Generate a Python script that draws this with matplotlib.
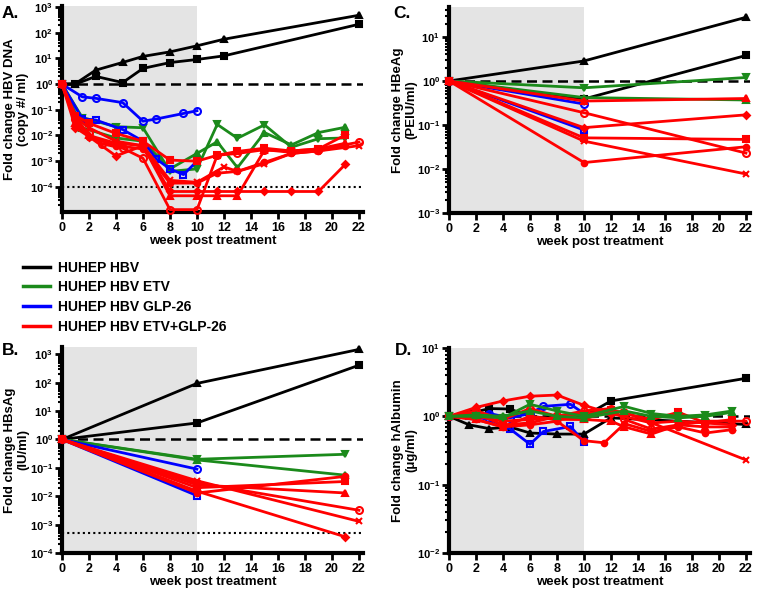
import math
import matplotlib
matplotlib.use("Agg")
import matplotlib.pyplot as plt
from matplotlib.lines import Line2D
from matplotlib.ticker import LogLocator, FixedLocator, FuncFormatter, NullFormatter

plt.rcParams['font.family'] = ['Liberation Sans', 'DejaVu Sans']
plt.rcParams['font.weight'] = 'bold'
plt.rcParams['mathtext.fontset'] = 'custom'
plt.rcParams['mathtext.rm'] = 'Liberation Sans:bold'
plt.rcParams['mathtext.bf'] = 'Liberation Sans:bold'
plt.rcParams['mathtext.it'] = 'Liberation Sans:bold'

BLACK, GREEN, BLUE, RED = '#000000', '#1b8a1b', '#0000ff', '#ff0000'

# ---------------- Panel A: HBV DNA ----------------
A_blk_tri_wk = [0, 1, 2.5, 4.5, 6, 8, 10, 12, 22]
A_blk_tri = [1, 1.05, 3.5, 7, 12, 18, 31, 56, 480]
A_blk_sq_wk = [0, 1, 2.5, 4.5, 6, 8, 10, 12, 22]
A_blk_sq = [1, 1.0, 2.0, 1.15, 4.1, 6.9, 9.1, 12.6, 214]
A_blu_ci_wk = [0, 1.5, 2.5, 4.5, 6, 7, 9, 10]
A_blu_ci = [1, 0.32, 0.28, 0.19, 0.036, 0.044, 0.072, 0.092]
A_blu_sq_wk = [0, 1.5, 2.5, 4.5, 6, 7, 8, 9, 10]
A_blu_sq = [1, 0.045, 0.04, 0.017, 0.006, 0.0012, 0.0005, 0.0003, 0.001]
A_grn_dn_wk = [0, 1.5, 4, 6, 8, 10, 11.5, 13, 15, 17, 19, 21]
A_grn_dn = [1, 0.05, 0.022, 0.02, 0.0004, 0.0005, 0.027, 0.0078, 0.026, 0.0035, 0.0075, 0.008]
A_grn_up_wk = [0, 1.5, 4, 6, 8, 10, 11.5, 13, 15, 17, 19, 21]
A_grn_up = [1, 0.02, 0.008, 0.006, 0.0005, 0.002, 0.0057, 0.00056, 0.013, 0.0043, 0.013, 0.021]
A_red_sq_wk = [0, 1, 2, 4, 6, 8, 10, 11.5, 13, 15, 17, 19, 21]
A_red_sq = [1, 0.06, 0.03, 0.012, 0.006, 0.0011, 0.001, 0.0017, 0.0024, 0.0032, 0.0025, 0.003, 0.0105]
A_red_oc_wk = [0, 1, 2, 3, 4.5, 6, 8, 10, 11.5, 13, 15, 17, 19, 22]
A_red_oc = [1, 0.043, 0.012, 0.0047, 0.0032, 0.0013, 1.3e-5, 1.3e-5, 0.0017, 0.002, 0.0028, 0.0022, 0.0028, 0.0055]
A_red_x_wk = [0, 1, 2, 4, 6, 8, 10, 12, 13, 15, 17, 19, 22]
A_red_x = [1, 0.05, 0.02, 0.006, 0.004, 0.00018, 0.00015, 0.0006, 0.0004, 0.0008, 0.002, 0.0025, 0.004]
A_red_tri_wk = [0, 1, 2, 4, 6, 8, 10, 11.5, 13, 15, 17, 19, 21]
A_red_tri = [1, 0.03, 0.01, 0.005, 0.004, 4.5e-5, 4.5e-5, 4.5e-5, 4.5e-5, 0.0027, 0.0025, 0.003, 0.005]
A_red_dia_wk = [0, 1, 2, 4, 6, 8, 10, 11.5, 13, 15, 17, 19, 21]
A_red_dia = [1, 0.02, 0.009, 0.0016, 0.004, 6.6e-5, 6.6e-5, 6.6e-5, 6.6e-5, 6.6e-5, 6.6e-5, 6.6e-5, 0.00076]
A_red_fc_wk = [0, 1, 2, 4, 6, 8, 10, 11.5, 13, 15, 17, 19, 21]
A_red_fc = [1, 0.04, 0.009, 0.004, 0.003, 1.4e-4, 1.4e-4, 0.00034, 0.0004, 0.0009, 0.002, 0.0025, 0.004]

# ---------------- Panel B: HBsAg ----------------
B_blk_tri_wk = [0, 10, 22]; B_blk_tri = [1, 94, 1480]
B_blk_sq_wk = [0, 10, 22]; B_blk_sq = [1, 3.8, 410]
B_grn_dn_wk = [0, 10, 21]; B_grn_dn = [1, 0.2, 0.3]
B_grn_up_wk = [0, 10, 21]; B_grn_up = [1, 0.19, 0.055]
B_blu_ci_wk = [0, 10]; B_blu_ci = [1, 0.09]
B_blu_sq_wk = [0, 10]; B_blu_sq = [1, 0.0105]
B_red_fc_wk = [0, 10, 21]; B_red_fc = [1, 0.013, 0.05]
B_red_sq_wk = [0, 10, 21]; B_red_sq = [1, 0.02, 0.033]
B_red_tri_wk = [0, 10, 21]; B_red_tri = [1, 0.025, 0.013]
B_red_oc_wk = [0, 10, 22]; B_red_oc = [1, 0.03, 0.0032]
B_red_x_wk = [0, 10, 22]; B_red_x = [1, 0.035, 0.0013]
B_red_dia_wk = [0, 10, 21]; B_red_dia = [1, 0.015, 0.00037]

# ---------------- Panel C: HBeAg ----------------
C_blk_tri_wk = [0, 10, 22]; C_blk_tri = [1, 2.85, 28]
C_blk_sq_wk = [0, 10, 22]; C_blk_sq = [1, 0.39, 3.8]
C_grn_dn_wk = [0, 10, 22]; C_grn_dn = [1, 0.7, 1.2]
C_grn_up_wk = [0, 10, 22]; C_grn_up = [1, 0.42, 0.37]
C_blu_ci_wk = [0, 10]; C_blu_ci = [1, 0.3]
C_blu_sq_wk = [0, 10]; C_blu_sq = [1, 0.077]
C_red_tri_wk = [0, 10, 22]; C_red_tri = [1, 0.35, 0.4]
C_red_oc_wk = [0, 10, 22]; C_red_oc = [1, 0.19, 0.023]
C_red_dia_wk = [0, 10, 22]; C_red_dia = [1, 0.087, 0.17]
C_red_sq_wk = [0, 10, 22]; C_red_sq = [1, 0.051, 0.047]
C_red_x_wk = [0, 10, 22]; C_red_x = [1, 0.043, 0.0077]
C_red_fc_wk = [0, 10, 22]; C_red_fc = [1, 0.014, 0.032]

# ---------------- Panel D: hAlbumin ----------------
D_blk_sq_wk = [0, 1.5, 3, 4.5, 6, 8, 10, 12, 22]
D_blk_sq = [1, 1.1, 1.3, 1.28, 1.0, 0.9, 1.0, 1.68, 3.6]
D_blk_tri_wk = [0, 1.5, 3, 4.5, 6, 8, 10, 12, 22]
D_blk_tri = [1, 0.75, 0.66, 0.7, 0.57, 0.55, 0.55, 0.95, 0.76]
D_blu_ci_wk = [0, 1.5, 3, 4.5, 6, 7, 9, 10]
D_blu_ci = [1, 1.05, 1.1, 0.95, 1.1, 1.4, 1.5, 1.1]
D_blu_sq_wk = [0, 1.5, 3, 4.5, 6, 7, 9, 10]
D_blu_sq = [1, 1.0, 0.9, 0.66, 0.39, 0.6, 0.71, 0.42]
D_grn_dn_wk = [0, 2, 4, 6, 8, 10, 13, 15, 17, 19, 21]
D_grn_dn = [1, 1.0, 0.95, 1.5, 1.2, 1.0, 1.4, 1.1, 1.0, 1.05, 1.2]
D_grn_up_wk = [0, 2, 4, 6, 8, 10, 13, 15, 17, 19, 21]
D_grn_up = [1, 1.05, 1.0, 1.2, 1.0, 0.95, 1.2, 1.0, 0.95, 1.0, 1.15]
D_red_dia_wk = [0, 2, 4, 6, 8, 10, 12, 15, 17, 19, 21]
D_red_dia = [1, 1.35, 1.68, 1.97, 2.05, 1.45, 1.1, 0.8, 0.85, 0.8, 0.75]
D_red_fc_wk = [0, 2, 4, 6, 8, 10, 11.5, 13, 15, 17, 19, 21]
D_red_fc = [1, 0.9, 0.7, 0.75, 0.85, 0.44, 0.41, 0.78, 0.6, 0.7, 0.57, 0.64]
D_red_x_wk = [0, 2, 4, 6, 8, 10, 12, 13, 22]
D_red_x = [1, 1.1, 0.75, 0.8, 1.0, 1.1, 1.2, 1.15, 0.23]
D_red_oc_wk = [0, 2, 4, 6, 8, 10, 12, 13, 15, 17, 19, 22]
D_red_oc = [1, 1.2, 0.9, 1.3, 1.0, 1.2, 1.3, 0.9, 0.65, 0.75, 0.85, 0.85]
D_red_sq_wk = [0, 2, 4, 6, 8, 10, 12, 13, 15, 17, 19, 21]
D_red_sq = [1, 1.0, 0.85, 0.9, 0.95, 0.9, 1.25, 1.1, 0.9, 1.15, 0.8, 0.9]
D_red_tri_wk = [0, 2, 4, 6, 8, 10, 12, 13, 15, 17, 19, 21]
D_red_tri = [1, 0.9, 0.7, 1.0, 0.9, 0.9, 0.85, 0.7, 0.55, 0.75, 0.7, 0.7]

legend_labels = ['HUHEP HBV', 'HUHEP HBV ETV', 'HUHEP HBV GLP-26', 'HUHEP HBV ETV+GLP-26']
x_ticks = list(range(0, 23, 2))


def series(ax, wk, vals, color, marker, filled=True, ms=5):
    ax.plot(wk, vals, color=color, lw=2.0, marker=marker, ms=ms,
            mfc=color if filled else 'none', mec=color, mew=1.5,
            clip_on=False, zorder=3)


def style(ax, ylim, ylabel, decades, label_x):
    ax.set_yscale('log')
    ax.set_xlim(0, 22.3)
    ax.set_ylim(*ylim)
    ax.axvspan(0, 10, color='#e4e4e4', zorder=0, lw=0)
    ax.axhline(1, color='black', lw=1.8, ls=(0, (4, 2.2)), zorder=2)
    for s in ['top', 'right']:
        ax.spines[s].set_visible(False)
    for s in ['left', 'bottom']:
        ax.spines[s].set_linewidth(3)
    ax.set_xticks(x_ticks)
    ax.set_xticklabels([str(t) for t in x_ticks], fontsize=9, fontweight='bold')
    ax.yaxis.set_major_locator(FixedLocator([10.0 ** d for d in decades]))
    ax.yaxis.set_major_formatter(FuncFormatter(lambda v, p: r'$\mathbf{10^{%d}}$' % round(math.log10(v))))
    ax.yaxis.set_minor_locator(LogLocator(base=10, subs=[2, 3, 4, 5, 6, 7, 8, 9], numticks=30))
    ax.yaxis.set_minor_formatter(NullFormatter())
    ax.tick_params(axis='both', which='major', width=2, length=5, pad=2)
    ax.tick_params(axis='y', which='major', labelsize=8, pad=1.5)
    ax.tick_params(axis='x', which='major', labelsize=9)
    ax.tick_params(axis='y', which='minor', width=1.5, length=3)
    ax.set_xlabel('week post treatment', fontsize=9.5, fontweight='bold', labelpad=1)
    ax.set_ylabel(ylabel, fontsize=9.5, fontweight='bold', linespacing=1.1)
    ax.yaxis.set_label_coords(label_x, 0.5)


fig = plt.figure(figsize=(7.6, 5.9), dpi=100)
W, H = 760.0, 590.0
axA = fig.add_axes([62 / W, 1 - 212 / H, 301 / W, 206 / H])
axC = fig.add_axes([449 / W, 1 - 213 / H, 301 / W, 206 / H])
axB = fig.add_axes([62 / W, 1 - 553 / H, 301 / W, 206 / H])
axD = fig.add_axes([449 / W, 1 - 553 / H, 301 / W, 205 / H])

style(axA, (1.05e-5, 1.1e3), 'Fold change HBV DNA\n(copy #/ ml)', range(-4, 4), -0.11)
style(axB, (1e-4, 1.8e3), 'Fold change HBsAg\n(IU/ml)', range(-4, 4), -0.11)
style(axC, (1e-3, 48), 'Fold change HBeAg\n(PEIU/ml)', range(-3, 2), -0.105)
style(axD, (1e-2, 10), 'Fold change hAlbumin\n(μg/ml)', range(-2, 2), -0.105)

axA.axhline(1e-4, color='black', lw=1.5, ls=(0, (1, 1.5)), zorder=2)
axB.axhline(5e-4, color='black', lw=1.5, ls=(0, (1, 1.5)), zorder=2)

# Panel A
series(axA, A_blk_tri_wk, A_blk_tri, BLACK, '^')
series(axA, A_blk_sq_wk, A_blk_sq, BLACK, 's')
series(axA, A_grn_dn_wk, A_grn_dn, GREEN, 'v')
series(axA, A_grn_up_wk, A_grn_up, GREEN, '^')
series(axA, A_blu_ci_wk, A_blu_ci, BLUE, 'o', False)
series(axA, A_blu_sq_wk, A_blu_sq, BLUE, 's', False)
series(axA, A_red_sq_wk, A_red_sq, RED, 's')
series(axA, A_red_oc_wk, A_red_oc, RED, 'o', False)
series(axA, A_red_x_wk, A_red_x, RED, 'x')
series(axA, A_red_tri_wk, A_red_tri, RED, '^')
series(axA, A_red_dia_wk, A_red_dia, RED, 'D', ms=3.5)
series(axA, A_red_fc_wk, A_red_fc, RED, 'o', ms=4)

# Panel B
series(axB, B_blk_tri_wk, B_blk_tri, BLACK, '^')
series(axB, B_blk_sq_wk, B_blk_sq, BLACK, 's')
series(axB, B_grn_dn_wk, B_grn_dn, GREEN, 'v')
series(axB, B_grn_up_wk, B_grn_up, GREEN, '^')
series(axB, B_blu_ci_wk, B_blu_ci, BLUE, 'o', False)
series(axB, B_blu_sq_wk, B_blu_sq, BLUE, 's', False)
series(axB, B_red_fc_wk, B_red_fc, RED, 'o', ms=4)
series(axB, B_red_sq_wk, B_red_sq, RED, 's')
series(axB, B_red_tri_wk, B_red_tri, RED, '^')
series(axB, B_red_oc_wk, B_red_oc, RED, 'o', False)
series(axB, B_red_x_wk, B_red_x, RED, 'x')
series(axB, B_red_dia_wk, B_red_dia, RED, 'D', ms=3.5)

# Panel C
series(axC, C_blk_tri_wk, C_blk_tri, BLACK, '^')
series(axC, C_blk_sq_wk, C_blk_sq, BLACK, 's')
series(axC, C_grn_dn_wk, C_grn_dn, GREEN, 'v')
series(axC, C_grn_up_wk, C_grn_up, GREEN, '^')
series(axC, C_blu_ci_wk, C_blu_ci, BLUE, 'o', False)
series(axC, C_blu_sq_wk, C_blu_sq, BLUE, 's', False)
series(axC, C_red_tri_wk, C_red_tri, RED, '^')
series(axC, C_red_oc_wk, C_red_oc, RED, 'o', False)
series(axC, C_red_dia_wk, C_red_dia, RED, 'D', ms=3.5)
series(axC, C_red_sq_wk, C_red_sq, RED, 's')
series(axC, C_red_x_wk, C_red_x, RED, 'x')
series(axC, C_red_fc_wk, C_red_fc, RED, 'o', ms=4)

# Panel D
series(axD, D_blk_sq_wk, D_blk_sq, BLACK, 's')
series(axD, D_blk_tri_wk, D_blk_tri, BLACK, '^')
series(axD, D_blu_ci_wk, D_blu_ci, BLUE, 'o', False)
series(axD, D_blu_sq_wk, D_blu_sq, BLUE, 's', False)
series(axD, D_red_dia_wk, D_red_dia, RED, 'D', ms=3.5)
series(axD, D_red_fc_wk, D_red_fc, RED, 'o', ms=4)
series(axD, D_red_x_wk, D_red_x, RED, 'x')
series(axD, D_red_oc_wk, D_red_oc, RED, 'o', False)
series(axD, D_red_sq_wk, D_red_sq, RED, 's')
series(axD, D_red_tri_wk, D_red_tri, RED, '^')
series(axD, D_grn_dn_wk, D_grn_dn, GREEN, 'v')
series(axD, D_grn_up_wk, D_grn_up, GREEN, '^')

# Panel letters
for txt, x, y in [('A.', 2, 18), ('B.', 2, 355), ('C.', 393, 18), ('D.', 395, 355)]:
    fig.text(x / W, 1 - y / H, txt, fontsize=12.5, fontweight='bold', va='baseline', ha='left')

# Legend
handles = [Line2D([], [], color=c, lw=2.5) for c in [BLACK, GREEN, BLUE, RED]]
fig.legend(handles, legend_labels, loc='upper left', bbox_to_anchor=(10 / W, 1 - 248 / H),
           frameon=False, handlelength=2.0, handletextpad=0.55,
           labelspacing=0.42, prop={'weight': 'bold', 'size': 10})

fig.savefig('out.png', dpi=100)
